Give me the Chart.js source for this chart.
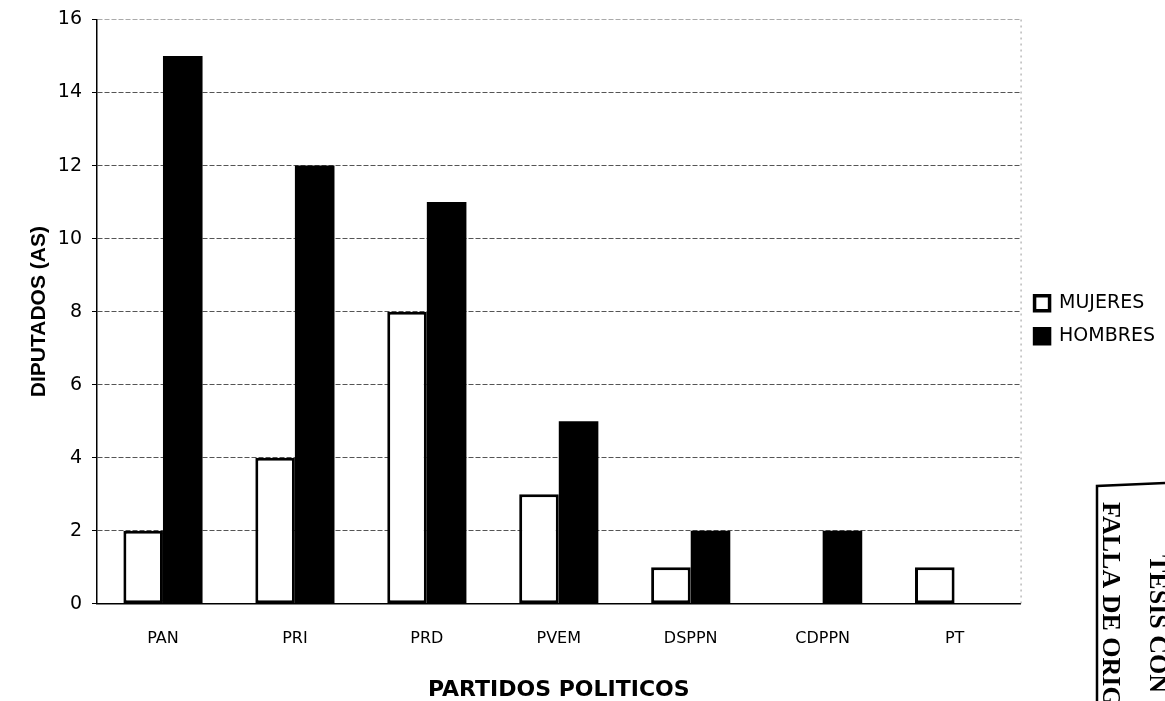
<!DOCTYPE html>
<html><head><meta charset="utf-8">
<script src="https://cdn.jsdelivr.net/npm/chart.js@4"></script>
<style>html,body{margin:0;padding:0;background:#fff}#wrap{width:1165px;height:701px;position:relative}</style>
</head><body><div id="wrap"><canvas id="c" width="1165" height="701"></canvas></div>
<script>
const categories = ["PAN","PRI","PRD","PVEM","DSPPN","CDPPN","PT"];
const mujeres = [2,4,8,3,1,0,1];
const hombres = [15,12,11,5,2,2,0];
const yTicks = [0,2,4,6,8,10,12,14,16];

const FONT = '"DejaVu Sans", Verdana, sans-serif';

const stamp = {
  id:'stamp',
  afterDraw(chart){
    const ctx = chart.ctx;
    ctx.save();
    ctx.strokeStyle='#000'; ctx.lineWidth=2.5;
    ctx.beginPath(); ctx.moveTo(1097,701); ctx.lineTo(1097,486); ctx.lineTo(1165,483); ctx.stroke();
    ctx.translate(1128,502);
    ctx.rotate(Math.PI/2);
    ctx.fillStyle='#000';
    ctx.font='bold 26px "Liberation Serif", serif';
    ctx.textBaseline='alphabetic';
    ctx.fillText('TESIS CON', 53, -22);
    ctx.fillText('FALLA DE ORIGEN', 0, 25);
    ctx.restore();
  }
};

const rightEdge = {
  id:'rightEdge',
  beforeDatasetsDraw(chart){
    const {ctx, chartArea:a} = chart;
    ctx.save();
    ctx.strokeStyle='#999'; ctx.lineWidth=1; ctx.setLineDash([2,4]);
    ctx.beginPath(); ctx.moveTo(a.right+0.5,a.top); ctx.lineTo(a.right+0.5,a.bottom); ctx.stroke();
    ctx.restore();
  }
};

new Chart(document.getElementById('c'), {
  type:'bar',
  data:{labels:categories,datasets:[
    {label:'MUJERES',data:mujeres,backgroundColor:'#fff',borderColor:'#000',borderWidth:3,borderSkipped:false},
    {label:'HOMBRES',data:hombres,backgroundColor:'#000',borderColor:'#000',borderWidth:0}
  ]},
  options:{
    responsive:false,animation:false,
    layout:{padding:{top:7,right:0,bottom:0,left:27}},
    datasets:{bar:{categoryPercentage:0.6,barPercentage:1}},
    plugins:{
      legend:{position:'right',align:'center',fullSize:false,
        title:{display:true,text:' ',font:{size:10},padding:{top:2,bottom:2}},
        labels:{boxWidth:15,boxHeight:15,color:'#000',font:{family:FONT,size:19},padding:14,
          generateLabels(chart){return chart.data.datasets.map((d,i)=>({text:d.label,fillStyle:d.backgroundColor,strokeStyle:'#000',lineWidth:3.5,datasetIndex:i,fontColor:'#000'}));}}},
      tooltip:{enabled:false}
    },
    scales:{
      x:{grid:{display:false,drawTicks:false},border:{color:'#000',width:1.5},
        ticks:{color:'#000',font:{family:FONT,size:16},padding:25},
        title:{display:true,text:'PARTIDOS POLITICOS',color:'#000',font:{family:FONT,size:22,weight:'bold',lineHeight:1.0},padding:{top:6,bottom:0}}},
      y:{min:0,max:16,
        afterBuildTicks(s){s.ticks=yTicks.map(v=>({value:v}));},
        afterFit(s){s.width=70;},
        grid:{color:(c)=>c.tick && c.tick.value===16 ? '#aaa' : '#555',borderDash:[10,4],lineWidth:1,tickLength:5,tickColor:'#000'},
        border:{color:'#000',width:1.5,dash:[5,2]},
        ticks:{color:'#000',font:{family:FONT,size:19,lineHeight:1.0},padding:10},
        title:{display:true,text:'DIPUTADOS (AS)',color:'#000',font:{family:'"Liberation Sans", Arial, sans-serif',size:21,weight:'bold'},padding:{top:0,bottom:0}}}
    }
  },
  plugins:[rightEdge, stamp]
});
</script></body></html>
